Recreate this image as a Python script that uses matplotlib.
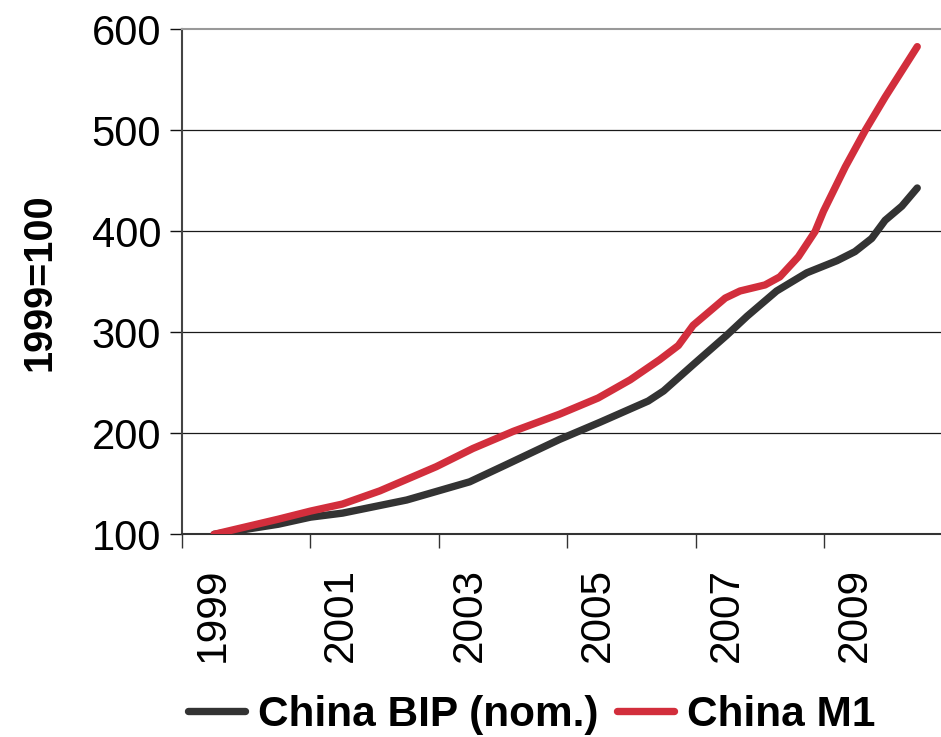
import matplotlib
matplotlib.use("Agg")
import matplotlib.pyplot as plt
from matplotlib.ticker import FixedLocator, NullFormatter

plt.rcParams['font.family'] = ['Liberation Sans', 'DejaVu Sans']

# China BIP (nom.), 1999=100
bip_x = [1999.5, 2000.5, 2001.0, 2001.5, 2002.5, 2003.48, 2004.05, 2004.88,
         2005.51, 2006.26, 2006.5, 2006.96, 2007.48, 2007.8, 2008.26, 2008.73,
         2009.2, 2009.48, 2009.74, 2009.95, 2010.21, 2010.45]
bip_y = [100, 110, 117, 121, 134, 152, 169, 194,
         211, 232, 242, 268, 297, 316, 341, 359,
         371, 380, 393, 411, 425, 443]

# China M1, 1999=100
m1_x = [1999.5, 2000.5, 2001.0, 2001.5, 2002.08, 2002.96, 2003.53, 2004.16,
        2004.88, 2005.48, 2005.98, 2006.44, 2006.73, 2006.96, 2007.46, 2007.69,
        2008.08, 2008.31, 2008.6, 2008.86, 2008.99, 2009.33, 2009.64, 2009.95,
        2010.45]
m1_y = [100, 115, 123, 130, 143, 167, 185, 202,
        219, 235, 253, 273, 287, 307, 334, 341,
        347, 355, 375, 400, 420, 464, 500, 533,
        583]

years = [1999, 2001, 2003, 2005, 2007, 2009]
year_labels = [str(y) for y in years]
yticks = [100, 200, 300, 400, 500, 600]

fig = plt.figure(figsize=(9.41, 7.37), dpi=100)
ax = fig.add_axes([0.1934, 0.275, 0.8066, 0.685])

for y in yticks[1:-1]:
    ax.axhline(y, color='#1a1a1a', lw=0.9, zorder=1)

ax.plot(bip_x, bip_y, color='#333333', lw=5.3, solid_capstyle='round',
        label='China BIP (nom.)', zorder=3)
ax.plot(m1_x, m1_y, color='#d22e3c', lw=5.3, solid_capstyle='round',
        label='China M1', zorder=3)

ax.set_xlim(1999.0, 2010.82)
ax.set_ylim(100, 600)

# tick marks at the years, labels shifted half a year to the right
ax.xaxis.set_major_locator(FixedLocator(years))
ax.xaxis.set_major_formatter(NullFormatter())
ax.xaxis.set_minor_locator(FixedLocator([y + 0.48 for y in years]))
ax.set_xticklabels(year_labels, minor=True, rotation=90, fontsize=30.5)
ax.tick_params(axis='x', which='major', length=10, width=1, color='#333333')
ax.tick_params(axis='x', which='minor', length=0, pad=24)

ax.set_yticks(yticks)
ax.tick_params(axis='y', length=9, width=1, color='#111111',
               labelsize=30, pad=6)

ax.set_ylabel('1999=100', fontsize=28.5, fontweight='bold', labelpad=24)

ax.spines['right'].set_visible(False)
ax.spines['top'].set_color('#999999')
ax.spines['top'].set_linewidth(1.5)
ax.spines['left'].set_color('#444444')
ax.spines['left'].set_linewidth(1.5)
ax.spines['bottom'].set_color('#333333')
ax.spines['bottom'].set_linewidth(1.5)

fig.legend(loc='center', bbox_to_anchor=(0.565, 0.03), ncol=2, frameon=False,
           prop={'size': 30.5, 'weight': 'bold'}, handlelength=1.35,
           handletextpad=0.3, columnspacing=0.45)

fig.savefig('out.png', dpi=100)
